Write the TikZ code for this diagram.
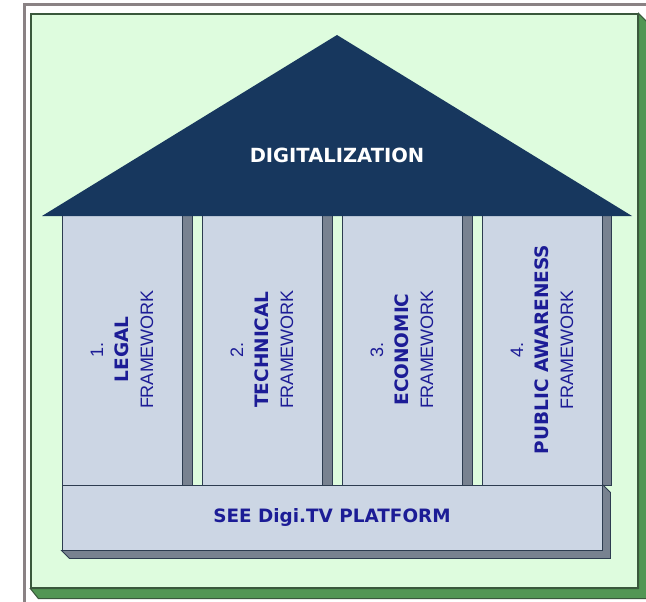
\documentclass[tikz,border=0pt]{standalone}
\usepackage{fontspec}
\setmainfont{Liberation Sans}
\newfontfamily\headfont{DejaVu Sans}
\usetikzlibrary{positioning}
\definecolor{boardgreen}{RGB}{222,252,222}
\definecolor{boardedge}{RGB}{58,88,60}
\definecolor{boardside}{RGB}{82,150,84}
\definecolor{framegray}{RGB}{138,130,132}
\definecolor{roofblue}{RGB}{23,55,94}
\definecolor{pillarfill}{RGB}{204,214,228}
\definecolor{pillaredge}{RGB}{45,60,80}
\definecolor{pillarside}{RGB}{120,130,144}
\definecolor{labelblue}{RGB}{28,28,150}
\tikzset{
	board/.style={draw=boardedge, line width=1.2pt, fill=boardgreen, rectangle, inner sep=0pt, minimum width=607pt, minimum height=574pt},
	boardshade/.style={draw=boardedge, line width=1pt, fill=boardside},
	pillar/.style={draw=pillaredge, line width=1pt, fill=pillarfill, rectangle, inner sep=0pt, minimum width=120pt, minimum height=271pt},
	base/.style={draw=pillaredge, line width=1pt, fill=pillarfill, rectangle, inner sep=0pt, minimum width=540pt, minimum height=65pt},
	pillarshade/.style={draw=pillaredge, line width=0.8pt, fill=pillarside},
	% rotated texts in the pillars
	pillartext/.style={rotate=90, align=center, text=labelblue, inner sep=0pt, font=\fontsize{18}{25}\selectfont},
	boldpart/.style={},
	rooftext/.style={text=white, inner sep=0pt, font=\headfont\bfseries\fontsize{19.5}{22}\selectfont},
	basetext/.style={text=labelblue, inner sep=0pt, font=\headfont\bfseries\fontsize{18.4}{22}\selectfont},
}
\newcommand{\pillarname}[1]{{\headfont\bfseries\fontsize{18.5}{25}\selectfont #1}}

\begin{document}
\begin{tikzpicture}[x=1pt, y=-1pt]
	\useasboundingbox (0,0) rectangle (646,602);
	
	% outer frame
	\draw[framegray, line width=3pt] (646,5) -- (24,5) -- (24,602);
	
	% green board with its 3d edge
	\node (board) [board] at (334.5,301) {};
	\filldraw[boardshade] (board.north east) -- ++(8,8) -- ([shift={(8,10)}]board.south east)
		-- ([shift={(8,10)}]board.south west) -- (board.south west) -- (board.south east) -- cycle;
	
	% pillars
	\node (legal) [pillar] at (122,349.5) {};
	\node (technical) [pillar] at (262,349.5) {};
	\node (economic) [pillar] at (402,349.5) {};
	\node (awareness) [pillar] at (542,349.5) {};
	
	\filldraw[pillarshade] (legal.north east) rectangle ([xshift=10pt]legal.south east);
	\filldraw[pillarshade] (technical.north east) rectangle ([xshift=10pt]technical.south east);
	\filldraw[pillarshade] (economic.north east) rectangle ([xshift=10pt]economic.south east);
	\filldraw[pillarshade] (awareness.north east) rectangle ([xshift=9pt]awareness.south east);
	
	\node (legaltext) [pillartext] at (legal.center) {1.\\ \pillarname{LEGAL}\\ FRAMEWORK};
	\node (technicaltext) [pillartext] at (technical.center) {2.\\ \pillarname{TECHNICAL}\\ FRAMEWORK};
	\node (economictext) [pillartext] at (economic.center) {3.\\ \pillarname{ECONOMIC}\\ FRAMEWORK};
	\node (awarenesstext) [pillartext] at (awareness.center) {4.\\ \pillarname{PUBLIC AWARENESS}\\ FRAMEWORK};
	
	% roof
	\coordinate (eaveleft) at (42,216);
	\coordinate (apex) at (337,35);
	\coordinate (eaveright) at (632,216);
	\fill[roofblue] (eaveleft) -- (apex) -- (eaveright) -- cycle;
	\node (roof) [rooftext] at (337,155) {DIGITALIZATION};
	
	% platform
	\node (platform) [base] at (332,517.5) {};
	\filldraw[pillarshade] (platform.north east) -- ++(8,8) -- ([shift={(8,8)}]platform.south east)
		-- ([shift={(8,8)}]platform.south west) -- (platform.south west) -- (platform.south east) -- cycle;
	\node (platformtext) [basetext] at (platform.center) {SEE Digi.TV PLATFORM};
\end{tikzpicture}
\end{document}
